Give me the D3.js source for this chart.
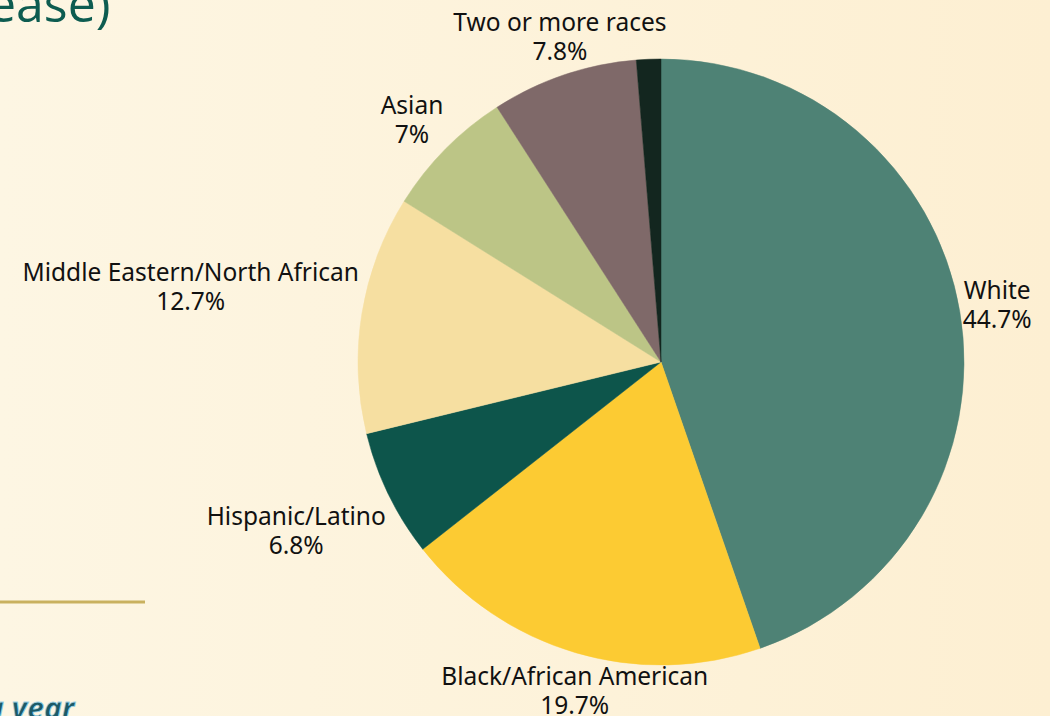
<!DOCTYPE html>
<html>
<head>
<meta charset="utf-8">
<script src="https://cdn.jsdelivr.net/npm/d3@7"></script>
<style>
  html, body { margin: 0; padding: 0; }
  svg { display: block; }
</style>
</head>
<body>
<svg id="chart" width="1050" height="716"></svg>
<script>
// slices, clockwise from 12 o'clock
var categories = ["White", "Black/African American", "Hispanic/Latino", "Middle Eastern/North African", "Asian", "Two or more races", "Other"];
var shares     = [44.7, 19.7, 6.8, 12.7, 7, 7.8, 1.3];
var shareLabels = ["44.7%", "19.7%", "6.8%", "12.7%", "7%", "7.8%", null];
var sliceColors = ["#4e8275", "#fccb33", "#0d554b", "#f6dfa1", "#bcc586", "#7f6969", "#13261f"];

var width = 1050, height = 716
  , cx = 661, cy = 362, r = 303
  , fontSize = 24.5
  , lineH = 29
  , svg = d3.select('#chart');

var defs = svg.append('defs');
var grad = defs.append('linearGradient').attr('id', 'bg').attr('x1', 0).attr('x2', 1).attr('y1', 0).attr('y2', 0);
grad.append('stop').attr('offset', 0).attr('stop-color', '#fdf6e3');
grad.append('stop').attr('offset', 1).attr('stop-color', '#fdefd2');

svg.append('rect').attr('width', width).attr('height', height).attr('fill', 'url(#bg)');

// bits of the slide behind the chart
svg.append('text')
  .attr('x', -12).attr('y', 22)
  .style('font-family', '"Open Sans", sans-serif')
  .style('font-size', '50px')
  .attr('fill', '#0d5c50')
  .text('ease)');

svg.append('line')
  .attr('x1', 0).attr('x2', 145).attr('y1', 602).attr('y2', 602)
  .attr('stroke', '#c9b15f').attr('stroke-width', 3);

svg.append('text')
  .attr('x', -14).attr('y', 719)
  .style('font-family', '"Open Sans", sans-serif')
  .style('font-size', '30px').style('font-style', 'italic').style('font-weight', 'bold')
  .attr('fill', '#1c5a66').attr('stroke', '#9fd3e6').attr('stroke-width', 0.8)
  .text('a year');

var data = categories.map(function (c, i) {
  return { key: c, value: shares[i], label: shareLabels[i], color: sliceColors[i] };
});

var pie = d3.pie().sort(null).value(function (d) { return d.value; });
var arc = d3.arc().innerRadius(0).outerRadius(r);
var arcs = pie(data);

var g = svg.append('g').attr('transform', 'translate(' + cx + ',' + cy + ')');

g.selectAll('path.slice')
  .data(arcs)
  .enter().append('path')
  .attr('class', 'slice')
  .attr('d', arc)
  .attr('fill', function (d) { return d.data.color; })
  .attr('stroke', function (d) { return d.data.color; })
  .attr('stroke-width', 0.5);

// labels hang off a point just past the rim, anchored by the slice direction;
// both lines are centred inside the label box
var labels = g.selectAll('text.lbl')
  .data(arcs.filter(function (d) { return d.data.label; }))
  .enter().append('text')
  .attr('class', 'lbl')
  .attr('text-anchor', 'middle')
  .style('font-family', '"Noto Sans", sans-serif')
  .style('font-size', fontSize + 'px')
  .attr('fill', '#111');

labels.each(function (d) {
  var sel = d3.select(this)
    , a = (d.startAngle + d.endAngle) / 2
    , dx = Math.sin(a)
    , dy = -Math.cos(a)
    , k = Math.abs(dx) < 0.4 && dy < 0 ? 12 : 3
    , px = (r + k) * dx
    , py = (r + k) * dy
    , t1 = sel.append('tspan').text(d.data.key)
    , t2 = sel.append('tspan').text(d.data.label)
    , y1, xc;

  var w = Math.max(t1.node().getComputedTextLength(), t2.node().getComputedTextLength());

  if (Math.abs(dx) < 0.4) xc = px;
  else xc = dx > 0 ? px + w / 2 : px - w / 2;

  if (dx > 0.9) y1 = py - lineH / 2 + fontSize * 0.1;    // middle
  else if (dy > 0) y1 = py + fontSize * 1.2;             // hang below
  else y1 = py - fontSize * 0.15 - lineH;                // sit above

  t1.attr('x', xc).attr('y', y1);
  t2.attr('x', xc).attr('y', y1 + lineH);
});
</script>
</body>
</html>
